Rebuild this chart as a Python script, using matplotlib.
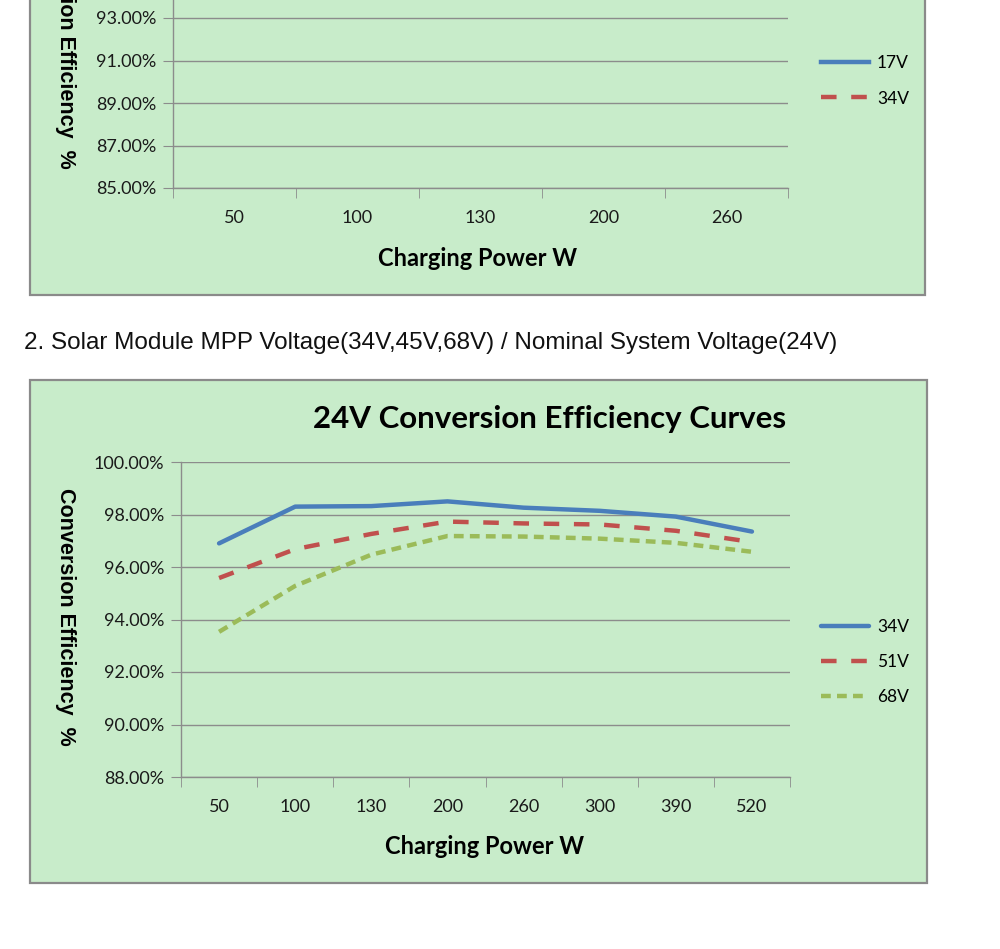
import matplotlib
matplotlib.use("Agg")
import matplotlib.pyplot as plt
from matplotlib.patches import Rectangle
from matplotlib.lines import Line2D
from matplotlib.ticker import FuncFormatter

# ---------------- data ----------------
# Upper chart (only its lower part is visible; its curves lie above the visible area)
top_categories = ["50", "100", "130", "200", "260"]
top_series_names = ["17V", "34V"]
top_yticks = [85, 87, 89, 91, 93]

# Lower chart: 24V conversion efficiency curves
categories = ["50", "100", "130", "200", "260", "300", "390", "520"]
eff_34v = [96.90, 98.30, 98.32, 98.50, 98.26, 98.14, 97.92, 97.35]
eff_51v = [95.58, 96.68, 97.26, 97.73, 97.66, 97.62, 97.38, 96.95]
eff_68v = [93.53, 95.28, 96.47, 97.18, 97.16, 97.08, 96.92, 96.58]
series_names = ["34V", "51V", "68V"]
yticks = [88, 90, 92, 94, 96, 98, 100]

caption = "2. Solar Module MPP Voltage(34V,45V,68V) / Nominal System Voltage(24V)"
title = "24V Conversion Efficiency Curves"
xlabel = "Charging Power W"
ylabel = "Conversion Efficiency  %"

# ---------------- style ----------------
W, H = 1000, 949
BG = "#C8ECCA"
EDGE = "#8A8A8A"
GRID = "#8C8C8C"
BLUE = "#4A7EBB"
RED = "#C0504D"
GREEN = "#9BBB59"
TICKFONT = "Lato"

fig = plt.figure(figsize=(W / 100, H / 100), dpi=100)
fig.patch.set_facecolor("white")


def fx(px):
    return px / W


def fy(py):
    return 1 - py / H


def frame(x0, y0, x1, y1):
    r = Rectangle((fx(x0), fy(y1)), fx(x1) - fx(x0), fy(y0) - fy(y1),
                  transform=fig.transFigure, facecolor=BG, edgecolor=EDGE,
                  linewidth=1.6, zorder=-5)
    fig.patches.append(r)


pct = FuncFormatter(lambda v, p: f"{v:.2f}%")


def style_axes(ax, ncat, ylo, yhi, ticks):
    ax.set_facecolor("none")
    ax.set_xlim(-0.5, ncat - 0.5)
    ax.set_ylim(ylo, yhi)
    ax.set_yticks(ticks)
    ax.yaxis.set_major_formatter(pct)
    ax.grid(axis="y", color=GRID, linewidth=1.0)
    ax.set_axisbelow(True)
    for s in ("top", "right"):
        ax.spines[s].set_visible(False)
    for s in ("left", "bottom"):
        ax.spines[s].set_color(GRID)
        ax.spines[s].set_linewidth(1.0)
    ax.set_xticks(range(ncat))
    ax.set_xticks([i - 0.5 for i in range(ncat + 1)], minor=True)
    ax.tick_params(axis="x", which="major", length=0, pad=16,
                   labelsize=13, labelcolor="#1a1a1a")
    ax.tick_params(axis="x", which="minor", length=7, color=GRID, direction="out")
    ax.tick_params(axis="y", length=7, color=GRID, direction="out", pad=5,
                   labelsize=13, labelcolor="#1a1a1a")


# ---------------- upper (cut-off) chart ----------------
frame(30, -60, 925, 295)
ax1 = fig.add_axes([fx(173), fy(188), (788 - 173) / W, (188 + 109.5) / H])
style_axes(ax1, len(top_categories), 85, 99, top_yticks)
ax1.set_xticklabels(top_categories, fontfamily=TICKFONT)
for lab in ax1.get_yticklabels():
    lab.set_fontfamily(TICKFONT)
top_styles = [dict(color=BLUE, linestyle="-"),
              dict(color=RED, linestyle=(0, (3.5, 3.3)))]
top_handles = [Line2D([], [], linewidth=3.2, label=n, **st)
               for n, st in zip(top_series_names, top_styles)]
fig.text(fx(478), fy(258), xlabel, ha="center", va="center",
         fontsize=17, fontweight="bold", family="Lato")
fig.text(fx(65), fy(40), ylabel, ha="center", va="center", rotation=-90,
         fontsize=15.5, fontweight="bold", family="Liberation Sans")
fig.legend(handles=top_handles, loc="center left",
           bbox_to_anchor=(fx(812), fy(81)), frameon=False,
           prop={"family": "Lato", "size": 12.5}, handlelength=2.8,
           handletextpad=0.45, labelspacing=1.1, borderpad=0)

# ---------------- caption ----------------
fig.text(fx(24), fy(343), caption, ha="left", va="center",
         fontsize=17.5, family="Liberation Sans", color="#111111")

# ---------------- lower chart ----------------
frame(30, 380, 927, 883)
ax2 = fig.add_axes([fx(181), fy(777), (790 - 181) / W, (777 - 462) / H])
style_axes(ax2, len(categories), 88, 100, yticks)
ax2.set_xticklabels(categories, fontfamily=TICKFONT)
for lab in ax2.get_yticklabels():
    lab.set_fontfamily(TICKFONT)
x = range(len(categories))
ax2.plot(x, eff_34v, color=BLUE, linewidth=3.2, linestyle="-",
         label=series_names[0], solid_capstyle="round")
ax2.plot(x, eff_51v, color=RED, linewidth=3.2, linestyle=(0, (3.5, 3.3)),
         label=series_names[1])
ax2.plot(x, eff_68v, color=GREEN, linewidth=3.2, linestyle=(0, (2.2, 1.4)),
         label=series_names[2])

fig.text(fx(550), fy(419), title, ha="center", va="center",
         fontsize=22.5, fontweight="bold", family="Lato")
fig.text(fx(485), fy(846), xlabel, ha="center", va="center",
         fontsize=17, fontweight="bold", family="Lato")
fig.text(fx(65), fy(617), ylabel, ha="center", va="center", rotation=-90,
         fontsize=15.5, fontweight="bold", family="Liberation Sans")
ax2.legend(loc="center left", bbox_to_anchor=(fx(812), fy(662)),
           bbox_transform=fig.transFigure, frameon=False,
           prop={"family": "Lato", "size": 12.5}, handlelength=2.8,
           handletextpad=0.45, labelspacing=1.1, borderpad=0)

fig.savefig("out.png", dpi=100, facecolor="white")
